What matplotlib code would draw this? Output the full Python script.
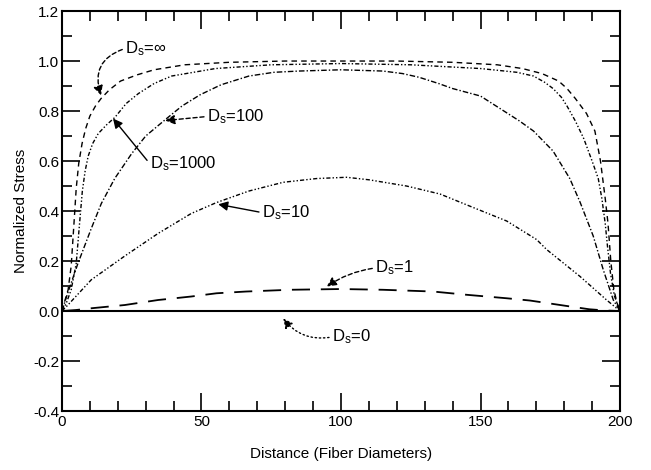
import matplotlib
matplotlib.use("Agg")
import matplotlib.pyplot as plt
from matplotlib.ticker import MultipleLocator

plt.rcParams['font.family'] = ['Liberation Sans', 'DejaVu Sans']
plt.rcParams['mathtext.fontset'] = 'custom'
plt.rcParams['mathtext.rm'] = 'Liberation Sans'
plt.rcParams['mathtext.it'] = 'Liberation Sans'

# ---- data ----
x_inf = [0, 1, 2.2, 3.3, 4.3, 5.1, 6.0, 7.2, 8.5, 10, 12, 14, 17, 21, 27, 33, 44, 60, 80, 100, 120, 140, 156, 165, 172, 178, 181, 184, 188, 191, 193, 194.7, 195.7, 196.7, 197.8, 199, 200]
y_inf = [0, 0.04, 0.085, 0.18, 0.35, 0.49, 0.59, 0.67, 0.73, 0.78, 0.82, 0.85, 0.885, 0.92, 0.945, 0.965, 0.985, 0.995, 1.0, 1.0, 1.0, 0.995, 0.985, 0.97, 0.95, 0.92, 0.89, 0.85, 0.79, 0.72, 0.6, 0.45, 0.35, 0.2, 0.085, 0.03, 0]

x_1000 = [0, 1.5, 3.3, 5.1, 6.3, 7.3, 8.3, 9.4, 11, 13, 16, 19, 23, 27.4, 33, 39.3, 55, 75, 100, 125, 150, 163, 169, 173, 176, 179, 181, 184, 187, 190, 192.2, 193.5, 194.7, 195.5, 196.6, 198, 200]
y_1000 = [0, 0.03, 0.085, 0.19, 0.35, 0.48, 0.56, 0.62, 0.67, 0.71, 0.745, 0.775, 0.83, 0.87, 0.91, 0.94, 0.97, 0.985, 0.99, 0.985, 0.97, 0.955, 0.94, 0.915, 0.89, 0.855, 0.82, 0.76, 0.69, 0.6, 0.53, 0.45, 0.35, 0.26, 0.15, 0.06, 0]

x_100 = [0, 2, 5.7, 10.5, 14.1, 18.9, 25, 30, 37.5, 43, 49.5, 57, 67, 76, 85, 100, 115, 122, 128, 135, 140, 150, 157, 164, 169, 176, 182, 185.7, 190.4, 194, 197.6, 200]
y_100 = [0, 0.07, 0.19, 0.33, 0.43, 0.53, 0.63, 0.70, 0.77, 0.82, 0.865, 0.905, 0.94, 0.955, 0.96, 0.965, 0.96, 0.95, 0.935, 0.91, 0.89, 0.86, 0.81, 0.76, 0.72, 0.64, 0.53, 0.435, 0.30, 0.165, 0.044, 0]

x_10 = [0, 2.2, 10.5, 22.5, 34.4, 46.3, 55.4, 67, 79.3, 91.3, 102, 110, 123.5, 135.5, 147.4, 159.4, 170.1, 173.7, 185.7, 195.2, 200]
y_10 = [0, 0.025, 0.125, 0.22, 0.31, 0.39, 0.434, 0.48, 0.515, 0.53, 0.535, 0.525, 0.50, 0.468, 0.414, 0.36, 0.286, 0.246, 0.138, 0.044, 0]

x_1 = [0, 5, 10.5, 22.5, 34.4, 46.3, 55.4, 66, 81.7, 100, 115, 133, 145, 159.4, 167.7, 181, 189, 195, 200]
y_1 = [0, 0.004, 0.011, 0.024, 0.044, 0.058, 0.071, 0.078, 0.085, 0.088, 0.085, 0.078, 0.065, 0.051, 0.042, 0.02, 0.007, 0.002, 0]

x_0 = [0, 200]
y_0 = [0, 0]

xlabel = "Distance (Fiber Diameters)"
ylabel = "Normalized Stress"

fig = plt.figure(figsize=(6.51, 4.70), dpi=100)
ax = fig.add_axes([0.0952, 0.1255, 0.8572, 0.851])

lw = 1.0
ax.plot(x_inf, y_inf, color='black', lw=lw, linestyle=(0, (4, 3)))
ax.plot(x_1000, y_1000, color='black', lw=lw, linestyle=(0, (3, 1.5, 1, 1.5, 1, 1.5)))
ax.plot(x_100, y_100, color='black', lw=lw, linestyle=(0, (4, 1.5, 1, 1.5)))
ax.plot(x_10, y_10, color='black', lw=lw, linestyle=(0, (3, 1.5, 1, 1.5, 1, 1.5)))
ax.plot(x_1, y_1, color='black', lw=1.3, linestyle=(0, (10, 6)))
ax.plot(x_0, y_0, color='black', lw=1.5, linestyle='-')

ax.set_xlim(0, 200)
ax.set_ylim(-0.4, 1.2)
ax.xaxis.set_major_locator(MultipleLocator(50))
ax.xaxis.set_minor_locator(MultipleLocator(10))
ax.yaxis.set_major_locator(MultipleLocator(0.2))
ax.yaxis.set_minor_locator(MultipleLocator(0.1))
ax.yaxis.set_major_formatter(plt.FuncFormatter(lambda v, p: f"{v:.1f}"))

ax.tick_params(which='both', direction='in', top=True, right=True, width=1.2,
               labelsize=11, color='black')
ax.tick_params(which='major', length=13, pad=3)
ax.tick_params(which='minor', length=7)
ax.tick_params(axis='y', which='major', pad=2)
for s in ax.spines.values():
    s.set_linewidth(1.5)

ax.set_xlabel(xlabel, fontsize=11, labelpad=13)
ax.set_ylabel(ylabel, fontsize=11, labelpad=4)

ap = dict(arrowstyle='-|>', color='black', lw=1.0, mutation_scale=14, shrinkA=0, shrinkB=0)
fs = 12
sub = r"D$_\mathrm{s}$"
ax.annotate(sub + "=∞", xy=(14, 0.863), xytext=(22.6, 1.05), fontsize=fs, va='center', ha='left',
            arrowprops=dict(ap, linestyle=(0, (3, 2)), connectionstyle="arc3,rad=0.5",
                            relpos=(0, 0.5)))
ax.annotate(sub + "=100", xy=(37, 0.762), xytext=(51.9, 0.778), fontsize=fs, va='center', ha='left',
            arrowprops=dict(ap, linestyle=(0, (3, 2)), relpos=(0, 0.5)))
ax.annotate(sub + "=1000", xy=(18.3, 0.77), xytext=(31.5, 0.589), fontsize=fs, va='center', ha='left',
            arrowprops=dict(ap, relpos=(0, 0.5)))
ax.annotate(sub + "=10", xy=(56, 0.427), xytext=(71.6, 0.394), fontsize=fs, va='center', ha='left',
            arrowprops=dict(ap, relpos=(0, 0.5)))
ax.annotate(sub + "=1", xy=(94.9, 0.098), xytext=(112.2, 0.172), fontsize=fs, va='center', ha='left',
            arrowprops=dict(ap, linestyle=(0, (3, 2)), connectionstyle="arc3,rad=0.12",
                            relpos=(0, 0.5)))
ax.annotate(sub + "=0", xy=(79.3, -0.03), xytext=(96.7, -0.104), fontsize=fs, va='center', ha='left',
            arrowprops=dict(ap, linestyle=(0, (1, 2)), connectionstyle="arc3,rad=-0.3",
                            relpos=(0, 0.5)))

fig.savefig("out.png", dpi=100)
